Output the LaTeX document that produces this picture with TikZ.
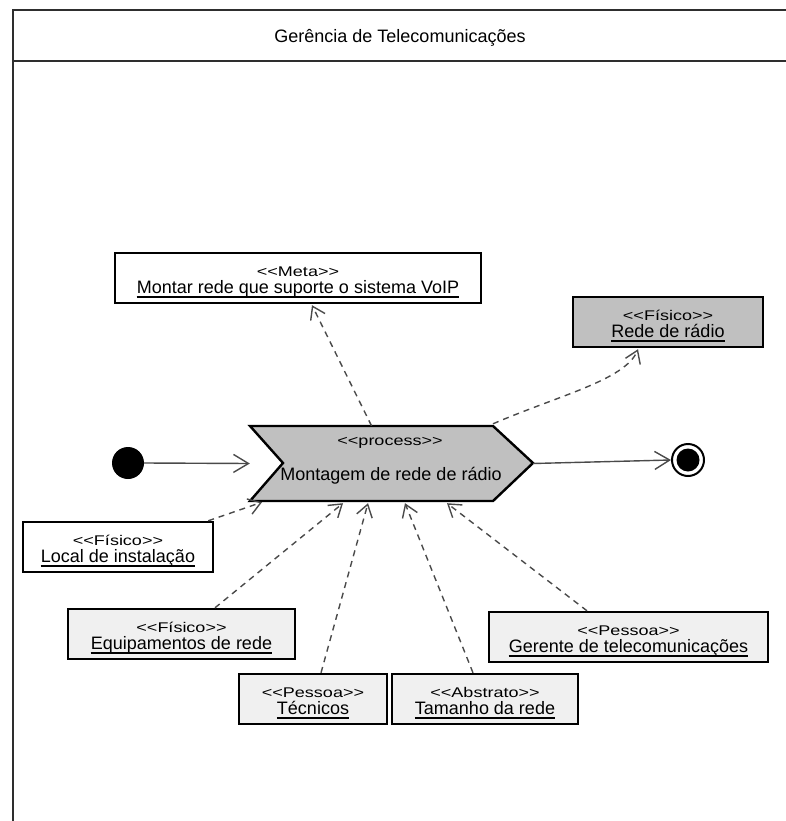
\documentclass[tikz,border=0pt]{standalone}
\usepackage{fontspec}
\usepackage{graphicx}
\setmainfont{Liberation Sans}
\usetikzlibrary{arrows.meta,calc}

\definecolor{procgray}{HTML}{C0C0C0}
\definecolor{objlight}{HTML}{F0F0F0}
\definecolor{linkgray}{HTML}{4A4A4A}
\definecolor{framegray}{HTML}{2E2E2E}

\tikzset{
  frame/.style={draw=framegray, line width=2.6pt},
  objbox/.style={rectangle, draw=black, line width=2.4pt, minimum height=50pt, inner sep=0pt},
  label/.style={inner sep=0pt, font=\fontsize{18}{20}\selectfont},
  uline/.style={line width=1.2pt, draw=black},
  dep/.style={draw=linkgray, line width=1.4pt, dash pattern=on 6pt off 5pt,
    -{Straight Barb[length=12pt,width=16pt]}},
  flow/.style={draw=linkgray, line width=1.4pt, -{Straight Barb[length=15pt,width=18pt]}},
}

% stereotype lines: plain angle brackets (no guillemet ligature), set slightly flatter
\newcommand{\stereotext}[1]{\scalebox{1}[0.78]{<{}<#1>{}>}}

% #1 name, #2 centre x, #3 top y, #4 width, #5 fill, #6 stereotype, #7 element name
\newcommand{\umlobj}[7]{%
  \node[objbox, fill=#5, minimum width=#4] (#1) at (#2, #3+25) {};
  \node[label] (#1-st) at (#2, #3+18.5) {\stereotext{#6}};
  \node[label, anchor=base] (#1-nm) at (#2, #3+40) {#7};
  \draw[uline] ([yshift=-4pt]#1-nm.base west) -- ([yshift=-4pt]#1-nm.base east);
}

\begin{document}
\begin{tikzpicture}[x=1pt, y=-1pt]
\useasboundingbox (0,0) rectangle (786,821);

% swimlane frame and header
\draw[frame] (786,10) -- (13,10) -- (13,821);
\draw[frame] (13,61) -- (786,61);
\node[label, anchor=base] (title) at (400,43) {Gerência de Telecomunicações};

% process (chevron)
\node[inner sep=0pt, minimum width=283pt, minimum height=75pt] (proc) at (391.5,463.5) {};
\filldraw[fill=procgray, draw=black, line width=2.4pt, line join=miter]
  (250,426) -- (493,426) -- (533,463) -- (493,501) -- (250,501) -- (283,463) -- cycle;
\node[label] (proc-st) at (390,443) {\stereotext{process}};
\node[label, anchor=base] (proc-nm) at (391,480) {Montagem de rede de rádio};

% initial and final nodes
\node[circle, fill=black, minimum size=32pt, inner sep=0pt] (init) at (128,463) {};
\node[circle, draw=black, fill=white, line width=2pt, minimum size=32pt, inner sep=0pt] (final) at (688,460) {};
\node[circle, fill=black, minimum size=23pt, inner sep=0pt] (final-dot) at (688,460) {};

% objects
\umlobj{meta}{298}{253}{366pt}{white}{Meta}{Montar rede que suporte o sistema VoIP}
\umlobj{rede}{668}{297}{190pt}{procgray}{Físico}{Rede de rádio}
\umlobj{local}{118}{522}{190pt}{white}{Físico}{Local de instalação}
\umlobj{equip}{181.5}{609}{227pt}{objlight}{Físico}{Equipamentos de rede}
\umlobj{tec}{313}{674}{148pt}{objlight}{Pessoa}{Técnicos}
\umlobj{tam}{485}{674}{186pt}{objlight}{Abstrato}{Tamanho da rede}
\umlobj{ger}{628.5}{612}{279pt}{objlight}{Pessoa}{Gerente de telecomunicações}

% control flow
\draw[flow] (init.east) -- (proc.west);
\draw[flow] (proc.east) -- (final.west);

% dependencies
\draw[dep] ($(proc.north)+(-20,0)$) -- ($(meta.south)+(14,1)$);
\draw[dep] ($(proc.north)+(101.5,-2)$) .. controls (560,395) and (625,380) .. ($(rede.south)+(-30,1)$);
\draw[dep] ($(local.north east)+(-6,0)$) -- ($(proc.south)+(-129.5,1)$);
\draw[dep] ($(equip.north)+(33.5,0)$) -- ($(proc.south)+(-48.5,2)$);
\draw[dep] ($(tec.north)+(8,0)$) -- ($(proc.south)+(-23.5,2)$);
\draw[dep] ($(tam.north)+(-12,0)$) -- ($(proc.south)+(13.5,2)$);
\draw[dep] ($(ger.north)+(-41.5,0)$) -- ($(proc.south)+(55.5,2)$);

\end{tikzpicture}
\end{document}
